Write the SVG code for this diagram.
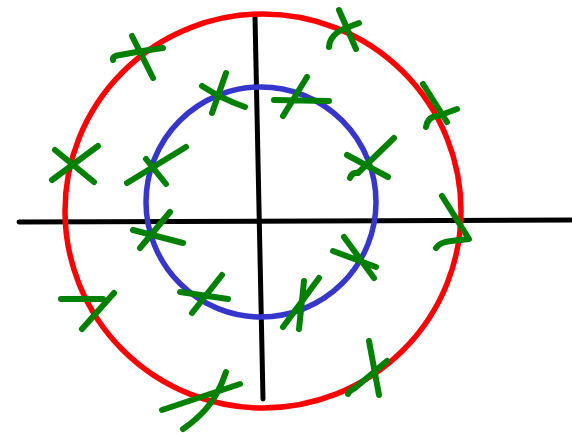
<svg xmlns="http://www.w3.org/2000/svg" width="572" height="433" viewBox="0 0 572 433">
<style>
.ax{stroke:#000;stroke-width:5;fill:none;stroke-linecap:round}
.red{stroke:#ff0000;stroke-width:5.5;fill:none}
.blue{stroke:#3636cc;stroke-width:5.5;fill:none}
.g{stroke:#008000;stroke-width:6;fill:none;stroke-linecap:round;stroke-linejoin:round}
</style>
<rect width="572" height="433" fill="#fff"/>
<g id="axes">
<path class="ax" d="M19 222 L571 220"/>
<path class="ax" d="M255 17 L263 399"/>
</g>
<ellipse id="outer" class="red" cx="263" cy="211" rx="198" ry="197"/>
<circle id="inner" class="blue" cx="261" cy="202" r="115"/>
<g id="marks">
<path class="g" d="M113 60 Q112 56 120 55 Q140 51 163 48 M132 36 L153 78"/>
<path class="g" d="M329 47 Q330 34 346 28 L359 23 M339 10 L356 49"/>
<path class="g" d="M202 86 Q222 99 245 107 M226 73 L212 113"/>
<path class="g" d="M274 100 L329 101 M307 77 L283 116"/>
<path class="g" d="M426 127 Q428 116 438 116 L457 109 M423 84 L447 122"/>
<path class="g" d="M55 150 L94 182 M98 146 L52 180"/>
<path class="g" d="M127 183 L186 147 M146 159 L166 184"/>
<path class="g" d="M347 155 L388 177 M394 138 L358 173 Q352 172 350 178"/>
<path class="g" d="M442 196 L469 239 L451 241 Q440 242 436 248"/>
<path class="g" d="M133 230 L183 243 M140 248 L170 212"/>
<path class="g" d="M61 299 L103 299 M114 293 L82 329"/>
<path class="g" d="M180 292 L228 299 M222 275 L192 313"/>
<path class="g" d="M162 410 L240 384 M226 372 Q218 396 205 410 Q195 421 183 429"/>
<path class="g" d="M333 251 L376 267 M344 237 L374 278"/>
<path class="g" d="M304 281 L299 329 M319 278 L283 327"/>
<path class="g" d="M369 341 L379 395 M387 361 L355 388 Q349 391 348 394"/>
</g>
</svg>
